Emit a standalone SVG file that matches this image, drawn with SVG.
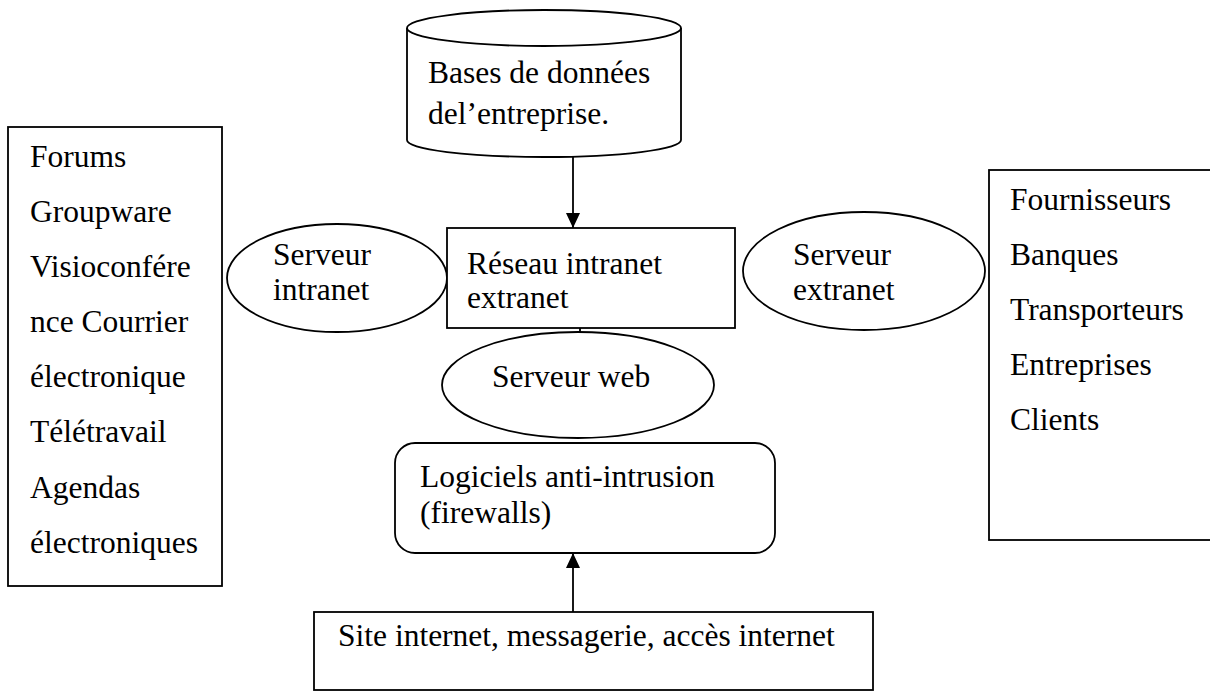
<svg xmlns="http://www.w3.org/2000/svg" width="1210" height="691" viewBox="0 0 1210 691">
<style>
.s{fill:#fff;stroke:#000;stroke-width:1.8}
.t{font-family:"Liberation Serif","Times New Roman",serif;font-size:31.5px;fill:#000}
.c{stroke:#000;stroke-width:1.8;fill:none}
</style>
<defs>
<marker id="ah" markerWidth="16" markerHeight="16" refX="15" refY="7" orient="auto" markerUnits="userSpaceOnUse">
<path d="M0,0 L15,7 L0,14 Z" fill="#000"/>
</marker>
</defs>
<rect width="1210" height="691" fill="#fff"/>
<g id="db">
<path class="s" d="M407,28 L407,140 A137,17 0 0 0 681,140 L681,28"/>
<ellipse class="s" cx="544" cy="28" rx="137" ry="18"/>
<text class="t" x="428" y="83">Bases de données</text>
<text class="t" x="428" y="124">del’entreprise.</text>
</g>
<g id="outils">
<rect class="s" x="8" y="127" width="214" height="459"/>
<text class="t" x="30" y="167">Forums</text>
<text class="t" x="30" y="222">Groupware</text>
<text class="t" x="30" y="277">Visioconfére</text>
<text class="t" x="30" y="332">nce Courrier</text>
<text class="t" x="30" y="387">électronique</text>
<text class="t" x="30" y="442">Télétravail</text>
<text class="t" x="30" y="498">Agendas</text>
<text class="t" x="30" y="553">électroniques</text>
</g>
<g id="partenaires">
<rect class="s" x="989" y="170" width="230" height="370"/>
<text class="t" x="1010" y="210">Fournisseurs</text>
<text class="t" x="1010" y="265">Banques</text>
<text class="t" x="1010" y="320">Transporteurs</text>
<text class="t" x="1010" y="375">Entreprises</text>
<text class="t" x="1010" y="430">Clients</text>
</g>
<g id="srv-intranet">
<ellipse class="s" cx="337" cy="278" rx="110" ry="54"/>
<text class="t" x="273" y="265">Serveur</text>
<text class="t" x="273" y="300">intranet</text>
</g>
<g id="reseau">
<rect class="s" x="447" y="228" width="288" height="100"/>
<text class="t" x="467" y="274">Réseau intranet</text>
<text class="t" x="467" y="308">extranet</text>
</g>
<g id="srv-extranet">
<ellipse class="s" cx="864" cy="271" rx="121" ry="59"/>
<text class="t" x="793" y="265">Serveur</text>
<text class="t" x="793" y="300">extranet</text>
</g>
<g id="srv-web">
<ellipse class="s" cx="578" cy="385" rx="136" ry="53"/>
<text class="t" x="492" y="387">Serveur web</text>
</g>
<g id="firewall">
<rect class="s" x="395" y="443" width="380" height="110" rx="20" ry="20"/>
<text class="t" x="420" y="487">Logiciels anti-intrusion</text>
<text class="t" x="420" y="523">(firewalls)</text>
</g>
<g id="internet">
<rect class="s" x="314" y="612" width="559" height="78"/>
<text class="t" x="338" y="646">Site internet, messagerie, accès internet</text>
</g>
<g id="connectors">
<line class="c" x1="573" y1="157" x2="573" y2="228" marker-end="url(#ah)"/>
<line class="c" x1="573" y1="612" x2="573" y2="553" marker-end="url(#ah)"/>
<line class="c" x1="580" y1="328" x2="580" y2="332"/>
</g>
</svg>
